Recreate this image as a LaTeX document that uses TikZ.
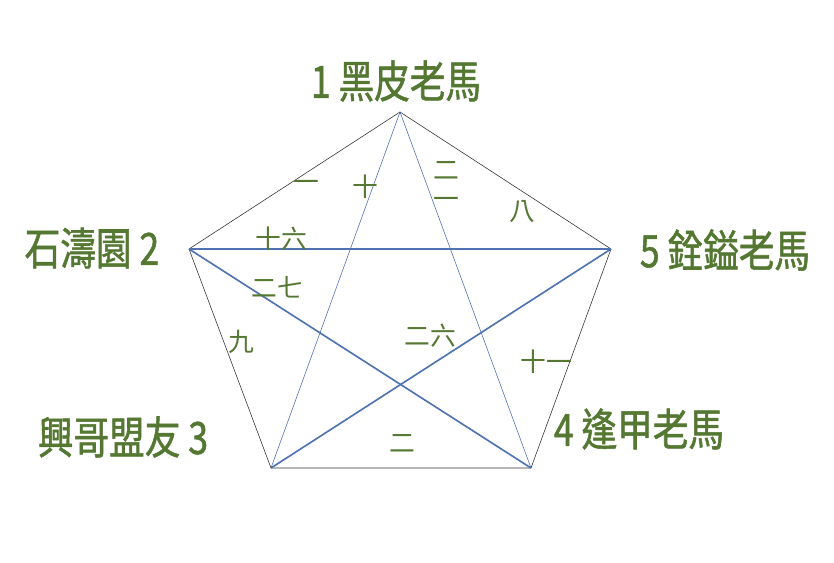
\documentclass[tikz,border=0pt]{standalone}
\usepackage{fontspec}
\usepackage{xcolor}
\usepackage{tikz}
\newfontfamily\cjk[FakeStretch=0.8,FakeBold=1.2]{Noto Sans CJK TC}
\newfontfamily\cjkthin{Noto Sans CJK TC}
\definecolor{leafgreen}{RGB}{84,120,50}
\definecolor{starblue}{RGB}{79,114,176}
\tikzset{
  place/.style={leafgreen, inner sep=0pt, font=\cjk\fontsize{38}{40}\selectfont},
  tally/.style={leafgreen, inner sep=0pt, align=center, font=\cjkthin\fontsize{22}{22}\selectfont},
  rim/.style={black!80, line width=0.5pt},
  thinstar/.style={starblue, line width=0.5pt},
  thickstar/.style={starblue, line width=1.4pt},
}

\begin{document}
\begin{tikzpicture}[x=0.03cm,y=-0.03cm]
    \useasboundingbox (0,0) rectangle (834,563);
    \coordinate (P1) at (400,112);
    \coordinate (P2) at (189,249);
    \coordinate (P3) at (271,468);
    \coordinate (P4) at (531,468);
    \coordinate (P5) at (611,249);
    % rim of the pentagon
    \draw[rim] (P1) -- (P2) -- (P3) -- (P4) -- (P5) -- cycle;
    % the star
    \draw[thinstar] (P1) -- (P3);
    \draw[thinstar] (P1) -- (P4);
    \draw[thickstar] (P2) -- (P5);
    \draw[thickstar] (P2) -- (P4);
    \draw[thickstar] (P5) -- (P3);
    % places
    \node[place] (n1) at (396,81) {1 黑皮老馬};
    \node[place] (n2) at (92,248) {石濤園 2};
    \node[place] (n3) at (123,437) {興哥盟友 3};
    \node[place] (n4) at (639,429) {4 逢甲老馬};
    \node[place] (n5) at (725,250) {5 銓鎰老馬};
    % counts
    \node[tally] (t12) at (306,186) {一};
    \node[tally] (t13) at (365,187) {十};
    \node[tally] (t14) at (446,185) {二\\[3pt]一};
    \node[tally] (t15) at (522,212) {八};
    \node[tally] (t25) at (281,239) {十六};
    \node[tally] (t24) at (277,287) {二七};
    \node[tally] (t23) at (241,342) {九};
    \node[tally] (t35) at (430,336) {二六};
    \node[tally] (t45) at (546,362) {十一};
    \node[tally] (t34) at (402,444) {二};
\end{tikzpicture}
\end{document}
